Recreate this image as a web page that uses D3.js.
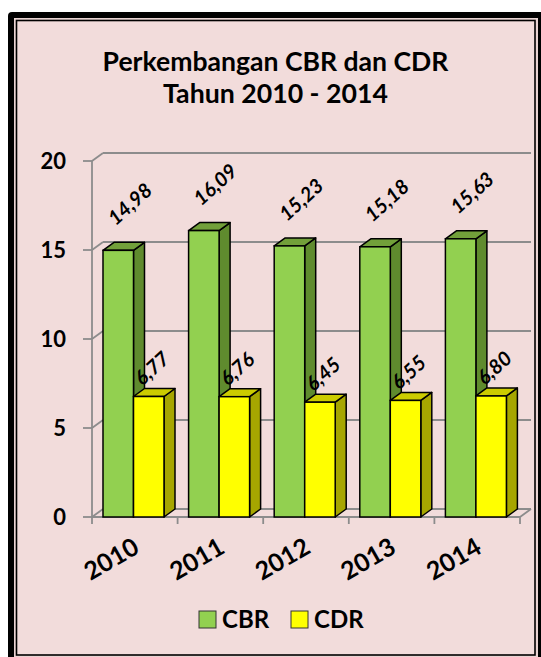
<!DOCTYPE html>
<html>
<head>
<meta charset="utf-8">
<script src="https://cdn.jsdelivr.net/npm/d3@7"></script>
<style>
  body { margin: 0; background: #ffffff; }
  svg { display: block; }
</style>
</head>
<body>
<div class="chart"></div>
<script>
// data
const years = ["2010", "2011", "2012", "2013", "2014"];
const cbrValues = [14.98, 16.09, 15.23, 15.18, 15.63];
const cdrValues = [6.77, 6.76, 6.45, 6.55, 6.80];
const seriesNames = ["CBR", "CDR"];
const yTicks = [0, 5, 10, 15, 20];
const titleLines = ["Perkembangan CBR dan CDR", "Tahun 2010 - 2014"];

const width = 541;
const height = 657;
const font = "Lato, 'Open Sans', sans-serif";

const colors = {
    CBR: {front: "#92d050", top: "#72a03a", side: "#5f8b2e"},
    CDR: {front: "#ffff00", top: "#cccc00", side: "#a6a600"}
};

const svg = d3.select(".chart")
    .append("svg")
    .attr("width", width)
    .attr("height", height);

// frame: thick black border, thin inner line, pink fill
svg.append("rect")
    .attr("x", 8).attr("y", 12)
    .attr("width", 600).attr("height", 700)
    .attr("rx", 4)
    .attr("fill", "#000");
svg.append("rect")
    .attr("x", 14).attr("y", 18)
    .attr("width", 524).attr("height", 700)
    .attr("fill", "#e9d3d2");
svg.append("rect")
    .attr("x", 16.5).attr("y", 20.5)
    .attr("width", 518.5).attr("height", 634.5)
    .attr("fill", "#f2dcdb")
    .attr("stroke", "#000")
    .attr("stroke-width", 1.6);

// title, sized to the width seen in the picture
const titleWidths = [346, 225];
const titleBase = [71, 103];
titleLines.forEach((t, i) => {
    const txt = svg.append("text")
        .text(t)
        .attr("x", 275.5)
        .attr("y", titleBase[i])
        .attr("text-anchor", "middle")
        .attr("font-family", font)
        .attr("font-weight", "bold")
        .attr("font-size", 24)
        .attr("fill", "#000");
    const w = txt.node().getComputedTextLength();
    txt.attr("font-size", 24 * titleWidths[i] / w);
});

// scales
const depth = {dx: 11, dy: -8};

const yScale = d3.scaleLinear()
    .domain([0, 20])
    .range([517, 161]);

const xScale = d3.scaleBand()
    .domain(years)
    .range([92, 520]);

const subScale = d3.scaleBand()
    .domain(seriesNames)
    .range([11, 72]);

const plot = svg.append("g");
const gridColor = "#8c8c8c";

// back wall gridlines + side wall diagonals
yTicks.forEach(v => {
    const y = yScale(v);
    plot.append("line")
        .attr("x1", 92).attr("y1", y)
        .attr("x2", 92 + depth.dx).attr("y2", y + depth.dy)
        .attr("stroke", gridColor).attr("stroke-width", 1.8);
    plot.append("line")
        .attr("x1", 92 + depth.dx).attr("y1", y + depth.dy)
        .attr("x2", 520 + depth.dx).attr("y2", y + depth.dy)
        .attr("stroke", gridColor).attr("stroke-width", 1.8);
    plot.append("line")
        .attr("x1", 83).attr("y1", y)
        .attr("x2", 92).attr("y2", y)
        .attr("stroke", gridColor).attr("stroke-width", 1.8);
});

// floor front edge and right diagonal
plot.append("line")
    .attr("x1", 92).attr("y1", yScale(0))
    .attr("x2", 520).attr("y2", yScale(0))
    .attr("stroke", gridColor).attr("stroke-width", 1.8);
plot.append("line")
    .attr("x1", 520).attr("y1", yScale(0))
    .attr("x2", 520 + depth.dx).attr("y2", yScale(0) + depth.dy)
    .attr("stroke", gridColor).attr("stroke-width", 1.8);

// vertical axis line
plot.append("line")
    .attr("x1", 92).attr("y1", yScale(20))
    .attr("x2", 92).attr("y2", yScale(0))
    .attr("stroke", gridColor).attr("stroke-width", 1.8);

// category ticks
plot.selectAll(".cat-tick")
    .data(years.concat(["end"]))
    .join("line")
    .attr("class", "cat-tick")
    .attr("x1", (d, i) => 92 + i * xScale.bandwidth())
    .attr("x2", (d, i) => 92 + i * xScale.bandwidth())
    .attr("y1", yScale(0))
    .attr("y2", yScale(0) + 7)
    .attr("stroke", gridColor).attr("stroke-width", 1.8);

// y labels
plot.selectAll(".y-label")
    .data(yTicks)
    .join("text")
    .attr("class", "y-label")
    .text(d => d)
    .attr("x", 66)
    .attr("y", d => yScale(d) + 8)
    .attr("text-anchor", "end")
    .attr("font-family", font)
    .attr("font-weight", "bold")
    .attr("font-size", 22)
    .attr("fill", "#000");

// year labels, rotated
plot.selectAll(".x-label")
    .data(years)
    .join("text")
    .attr("class", "x-label")
    .text(d => d)
    .attr("text-anchor", "end")
    .attr("transform", d => `translate(${xScale(d) + xScale.bandwidth() / 2 + 6},${552}) rotate(-30)`)
    .attr("font-family", font)
    .attr("font-weight", "bold")
    .attr("font-size", 25)
    .attr("fill", "#000");

// 3D bars
const rows = [];
years.forEach((yr, i) => {
    rows.push({year: yr, series: "CBR", value: cbrValues[i]});
    rows.push({year: yr, series: "CDR", value: cdrValues[i]});
});

const barW = subScale.bandwidth();

const bars = plot.selectAll(".bar")
    .data(rows)
    .join("g")
    .attr("class", "bar");

bars.append("path") // right side
    .attr("d", d => {
        const x1 = xScale(d.year) + subScale(d.series) + barW;
        const y0 = yScale(0), y1 = yScale(d.value);
        return `M${x1},${y0} L${x1},${y1} L${x1 + depth.dx},${y1 + depth.dy} L${x1 + depth.dx},${y0 + depth.dy} Z`;
    })
    .attr("fill", d => colors[d.series].side)
    .attr("stroke", "#000").attr("stroke-width", 1.5)
    .attr("stroke-linejoin", "round");

bars.append("path") // top
    .attr("d", d => {
        const x0 = xScale(d.year) + subScale(d.series);
        const y1 = yScale(d.value);
        return `M${x0},${y1} L${x0 + depth.dx},${y1 + depth.dy} L${x0 + barW + depth.dx},${y1 + depth.dy} L${x0 + barW},${y1} Z`;
    })
    .attr("fill", d => colors[d.series].top)
    .attr("stroke", "#000").attr("stroke-width", 1.5)
    .attr("stroke-linejoin", "round");

bars.append("rect") // front
    .attr("x", d => xScale(d.year) + subScale(d.series))
    .attr("y", d => yScale(d.value))
    .attr("width", barW)
    .attr("height", d => yScale(0) - yScale(d.value))
    .attr("fill", d => colors[d.series].front)
    .attr("stroke", "#000").attr("stroke-width", 1.5);

// value labels, rotated like the picture
const labelOffset = {CBR: {x: -8, y: -20}, CDR: {x: -12, y: -6}};

plot.selectAll(".val-label")
    .data(rows)
    .join("text")
    .attr("class", "val-label")
    .text(d => d.value.toFixed(2).replace(".", ","))
    .attr("transform", d => {
        const cx = xScale(d.year) + subScale(d.series) + barW / 2 + depth.dx / 2;
        const cy = yScale(d.value) + depth.dy / 2;
        return `translate(${cx + labelOffset[d.series].x},${cy + labelOffset[d.series].y}) rotate(-42)`;
    })
    .attr("font-family", font)
    .attr("font-weight", "bold")
    .attr("font-style", "italic")
    .attr("font-size", 20)
    .attr("fill", "#000");

// legend
const legendX = [199, 291];
const legend = svg.selectAll(".legend")
    .data(seriesNames)
    .join("g")
    .attr("class", "legend")
    .attr("transform", (d, i) => `translate(${legendX[i]},611)`);

legend.append("rect")
    .attr("width", 17).attr("height", 17)
    .attr("fill", d => colors[d].front)
    .attr("stroke", "#333").attr("stroke-width", 1);

legend.append("text")
    .text(d => d)
    .attr("x", 23)
    .attr("y", 17)
    .attr("font-family", font)
    .attr("font-weight", "bold")
    .attr("font-size", 24)
    .attr("fill", "#000");
</script>
</body>
</html>
